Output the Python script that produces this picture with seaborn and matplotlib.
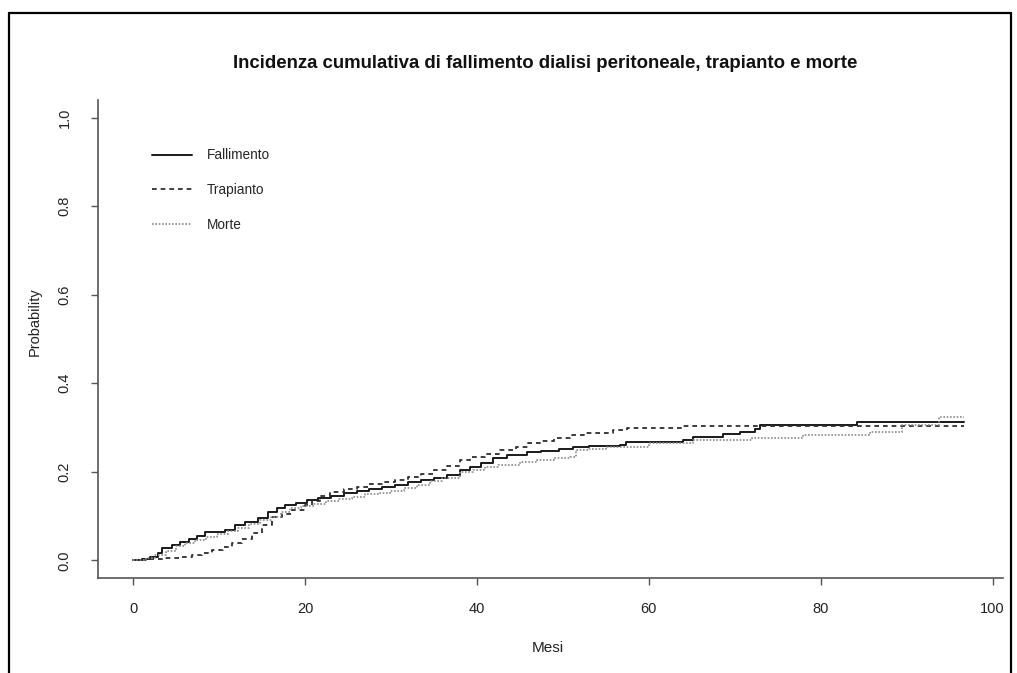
import matplotlib
matplotlib.use("Agg")
from matplotlib import pyplot as plt
from matplotlib.lines import Line2D
import seaborn as sns

# cumulative incidence step curves (months, probability)
fall_t = [0, 1.0, 2.0, 2.9, 3.4, 4.5, 5.5, 6.5, 7.5, 8.4, 10.7, 11.9, 13.0, 14.5, 15.7,
          16.8, 17.7, 19.0, 20.2, 21.5, 23.0, 24.5, 26.0, 27.5, 29.0, 30.5, 32.0, 33.5,
          35.0, 36.5, 38.0, 39.2, 40.5, 41.9, 43.5, 45.8, 47.5, 49.5, 51.2, 53.0, 56.6,
          57.4, 64.0, 65.1, 68.6, 70.6, 72.3, 72.9, 84.2, 96.7]
fall_v = [0, 0.003, 0.008, 0.016, 0.027, 0.035, 0.041, 0.047, 0.055, 0.063, 0.068, 0.079,
          0.086, 0.095, 0.110, 0.117, 0.124, 0.130, 0.136, 0.140, 0.146, 0.152, 0.157,
          0.160, 0.165, 0.170, 0.176, 0.181, 0.186, 0.193, 0.204, 0.210, 0.220, 0.230,
          0.237, 0.244, 0.248, 0.252, 0.256, 0.258, 0.260, 0.267, 0.271, 0.278, 0.285,
          0.290, 0.296, 0.305, 0.312, 0.312]

trap_t = [0, 2.0, 3.7, 5.5, 6.9, 8.0, 9.2, 10.5, 11.5, 12.7, 13.8, 15.0, 16.2, 17.3, 18.5,
          20.0, 20.8, 21.7, 22.9, 24.5, 26.0, 27.5, 29.0, 30.5, 32.0, 33.5, 35.0, 36.5,
          38.0, 39.2, 41.0, 42.7, 44.5, 46.0, 47.5, 49.0, 50.8, 52.5, 55.8, 57.5, 64.0, 96.7]
trap_v = [0, 0.002, 0.005, 0.008, 0.011, 0.017, 0.023, 0.030, 0.038, 0.049, 0.061, 0.080,
          0.097, 0.105, 0.113, 0.124, 0.135, 0.145, 0.154, 0.160, 0.166, 0.172, 0.177,
          0.182, 0.189, 0.196, 0.205, 0.214, 0.226, 0.233, 0.240, 0.249, 0.257, 0.264,
          0.270, 0.276, 0.283, 0.288, 0.294, 0.299, 0.304, 0.304]

morte_t = [0, 1.5, 2.5, 3.8, 5.0, 6.0, 7.2, 8.5, 9.8, 11.0, 12.2, 13.5, 14.8, 16.0, 17.2,
           18.3, 19.5, 21.0, 22.5, 24.0, 25.5, 27.0, 28.5, 29.9, 31.5, 33.0, 34.5, 36.0,
           38.0, 39.5, 41.0, 42.5, 45.0, 47.0, 49.0, 50.8, 51.5, 53.0, 55.0, 60.0, 65.1,
           72.0, 77.9, 85.7, 89.5, 93.8, 96.7]
morte_v = [0, 0.006, 0.012, 0.022, 0.032, 0.040, 0.046, 0.052, 0.060, 0.066, 0.074, 0.082,
           0.090, 0.098, 0.108, 0.118, 0.122, 0.128, 0.134, 0.139, 0.144, 0.149, 0.152,
           0.156, 0.163, 0.170, 0.178, 0.186, 0.200, 0.205, 0.210, 0.215, 0.222, 0.226,
           0.230, 0.233, 0.249, 0.252, 0.256, 0.264, 0.271, 0.276, 0.283, 0.290, 0.305,
           0.324, 0.324]

x_ticks = [0, 20, 40, 60, 80, 100]
y_ticks = [0.0, 0.2, 0.4, 0.6, 0.8, 1.0]

sns.set_style('white')
plt.rcParams['font.family'] = ['Liberation Sans', 'DejaVu Sans']

fig = plt.figure(figsize=(10.17, 6.73), dpi=100)
ax = fig.add_axes([0.0964, 0.1412, 0.8898, 0.7102])

sns.lineplot(x=fall_t, y=fall_v, drawstyle='steps-post', color='#1a1a1a', lw=1.4,
             label='Fallimento', ax=ax)
sns.lineplot(x=trap_t, y=trap_v, drawstyle='steps-post', color='#2e2e2e', lw=1.3,
             linestyle=(0, (2.6, 2.2)), label='Trapianto', ax=ax)
sns.lineplot(x=morte_t, y=morte_v, drawstyle='steps-post', color='#8a8a8a', lw=1.2,
             linestyle=(0, (1, 1)), label='Morte', ax=ax)

ax.set_xlim(-4.07, 101.2)
ax.set_ylim(-0.04, 1.04)
ax.set_xticks(x_ticks)
ax.set_xticklabels([str(v) for v in x_ticks])
ax.set_yticks(y_ticks)
ax.set_yticklabels([f'{v:.1f}' for v in y_ticks])
for lab in ax.get_yticklabels():
    lab.set_rotation(90)
    lab.set_va('center')
ax.tick_params(axis='both', direction='out', length=5, width=1, color='#555555',
               labelsize=10.5, labelcolor='#222222', left=True, bottom=True)
ax.tick_params(axis='x', pad=12)
ax.tick_params(axis='y', pad=14)
sns.despine(ax=ax)
for side in ['left', 'bottom']:
    ax.spines[side].set_color('#555555')
    ax.spines[side].set_linewidth(1.2)
ax.set_xlabel('')
ax.set_ylabel('')

ax.legend(loc='upper left', bbox_to_anchor=(0.0597, 0.899), frameon=False,
          fontsize=9.8, handlelength=2.9, handletextpad=1.1, labelspacing=1.52,
          borderpad=0, borderaxespad=0)

fig.text(545 / 1017, 1 - 63 / 673, 'Incidenza cumulativa di fallimento dialisi peritoneale, trapianto e morte',
         ha='center', va='center', fontsize=13.4, fontweight='bold', color='#111111')
fig.text(548 / 1017, 1 - 648 / 673, 'Mesi', ha='center', va='center', fontsize=11, color='#222222')
fig.text(35 / 1017, 1 - 322 / 673, 'Probability', ha='center', va='center', rotation=90,
         fontsize=10.5, color='#222222')

# outer frame of the picture
for xs, ys in [([9 / 1017, 9 / 1017], [0, 1 - 13 / 673]),
               ([9 / 1017, 1011 / 1017], [1 - 13 / 673, 1 - 13 / 673]),
               ([1011 / 1017, 1011 / 1017], [1 - 13 / 673, 0])]:
    fig.add_artist(Line2D(xs, ys, transform=fig.transFigure, color='black', lw=1.6))

fig.savefig('out.png', dpi=100)
